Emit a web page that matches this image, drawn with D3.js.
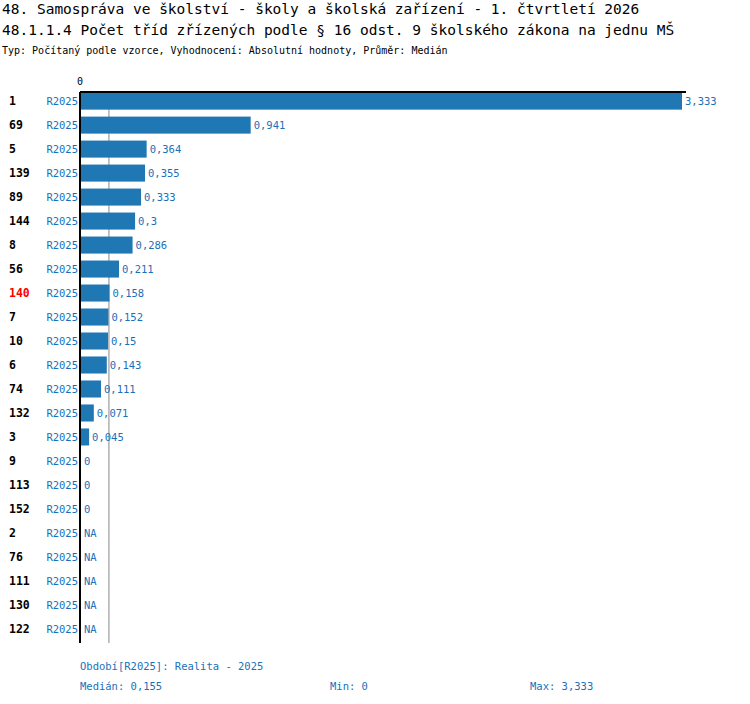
<!DOCTYPE html>
<html><head><meta charset="utf-8">
<script src="https://cdn.jsdelivr.net/npm/d3@7"></script>
<style>body{margin:0;background:#fff}svg{font-family:"DejaVu Sans Mono",monospace}</style>
</head><body>
<svg id="c" width="750" height="704"></svg>
<script>
// data
var categories = ["1","69","5","139","89","144","8","56","140","7","10","6","74","132","3","9","113","152","2","76","111","130","122"];
var values = [3.333,0.941,0.364,0.355,0.333,0.3,0.286,0.211,0.158,0.152,0.15,0.143,0.111,0.071,0.045,0,0,0,null,null,null,null,null];
var period = "R2025";
var highlight = "140";
var median = 0.155, minV = 0, maxV = 3.333;

var svg = d3.select("#c");
var blue = "#1f77b4", txt = "#1a70b8";
var fmt = function (v) { return v === null ? "NA" : String(v).replace(".", ","); };

svg.append("text").attr("x", 2).attr("y", 14).attr("font-size", 14.5).text("48. Samospráva ve školství - školy a školská zařízení - 1. čtvrtletí 2026");
svg.append("text").attr("x", 2).attr("y", 35).attr("font-size", 14.5).text("48.1.1.4 Počet tříd zřízených podle § 16 odst. 9 školského zákona na jednu MŠ");
svg.append("text").attr("x", 2).attr("y", 54).attr("font-size", 10).text("Typ: Počítaný podle vzorce, Vyhodnocení: Absolutní hodnoty, Průměr: Medián");

var x = d3.scaleLinear().domain([0, maxV]).range([81, 682]);
var y = d3.scaleBand().domain(categories).range([89, 89 + 24 * categories.length]).paddingInner(0.29).paddingOuter(0.15);

// median line
svg.append("line").attr("x1", x(median)).attr("x2", x(median)).attr("y1", 92).attr("y2", 643)
  .attr("stroke", "#888").attr("stroke-width", 1);

var g = svg.selectAll("g.row").data(categories).enter().append("g");
g.append("text").attr("x", 9).attr("y", function (d) { return y(d) + y.bandwidth() / 2 + 4; })
  .attr("font-size", 11.5).attr("font-weight", "bold")
  .attr("fill", function (d) { return d === highlight ? "red" : "#000"; }).text(function (d) { return d; });
g.append("text").attr("x", 78).attr("text-anchor", "end").attr("y", function (d) { return y(d) + y.bandwidth() / 2 + 4; })
  .attr("font-size", 10.5).attr("fill", txt).text(period);
g.append("rect").attr("x", x(0)).attr("y", function (d) { return y(d); }).attr("height", y.bandwidth())
  .attr("width", function (d, i) { return values[i] ? x(values[i]) - x(0) : 0; }).attr("fill", blue);
g.append("text").attr("x", function (d, i) { return x(values[i] || 0) + 3; })
  .attr("y", function (d) { return y(d) + y.bandwidth() / 2 + 4; })
  .attr("font-size", 10.5).attr("fill", txt).text(function (d, i) { return fmt(values[i]); });

// axes
svg.append("line").attr("x1", 80).attr("x2", 80).attr("y1", 92).attr("y2", 643).attr("stroke", "#000").attr("stroke-width", 2);
svg.append("line").attr("x1", 80).attr("x2", 686).attr("y1", 92).attr("y2", 92).attr("stroke", "#000").attr("stroke-width", 2);
svg.append("text").attr("x", 80).attr("y", 85).attr("text-anchor", "middle").attr("font-size", 10).text("0");

// footer
svg.append("text").attr("x", 80).attr("y", 670).attr("font-size", 10.5).attr("fill", txt).text("Období[" + period + "]: Realita - 2025");
svg.append("text").attr("x", 80).attr("y", 690).attr("font-size", 10.5).attr("fill", txt).text("Medián: " + fmt(median));
svg.append("text").attr("x", 330).attr("y", 690).attr("font-size", 10.5).attr("fill", txt).text("Min: " + fmt(minV));
svg.append("text").attr("x", 530).attr("y", 690).attr("font-size", 10.5).attr("fill", txt).text("Max: " + fmt(maxV));
</script>
</body></html>
